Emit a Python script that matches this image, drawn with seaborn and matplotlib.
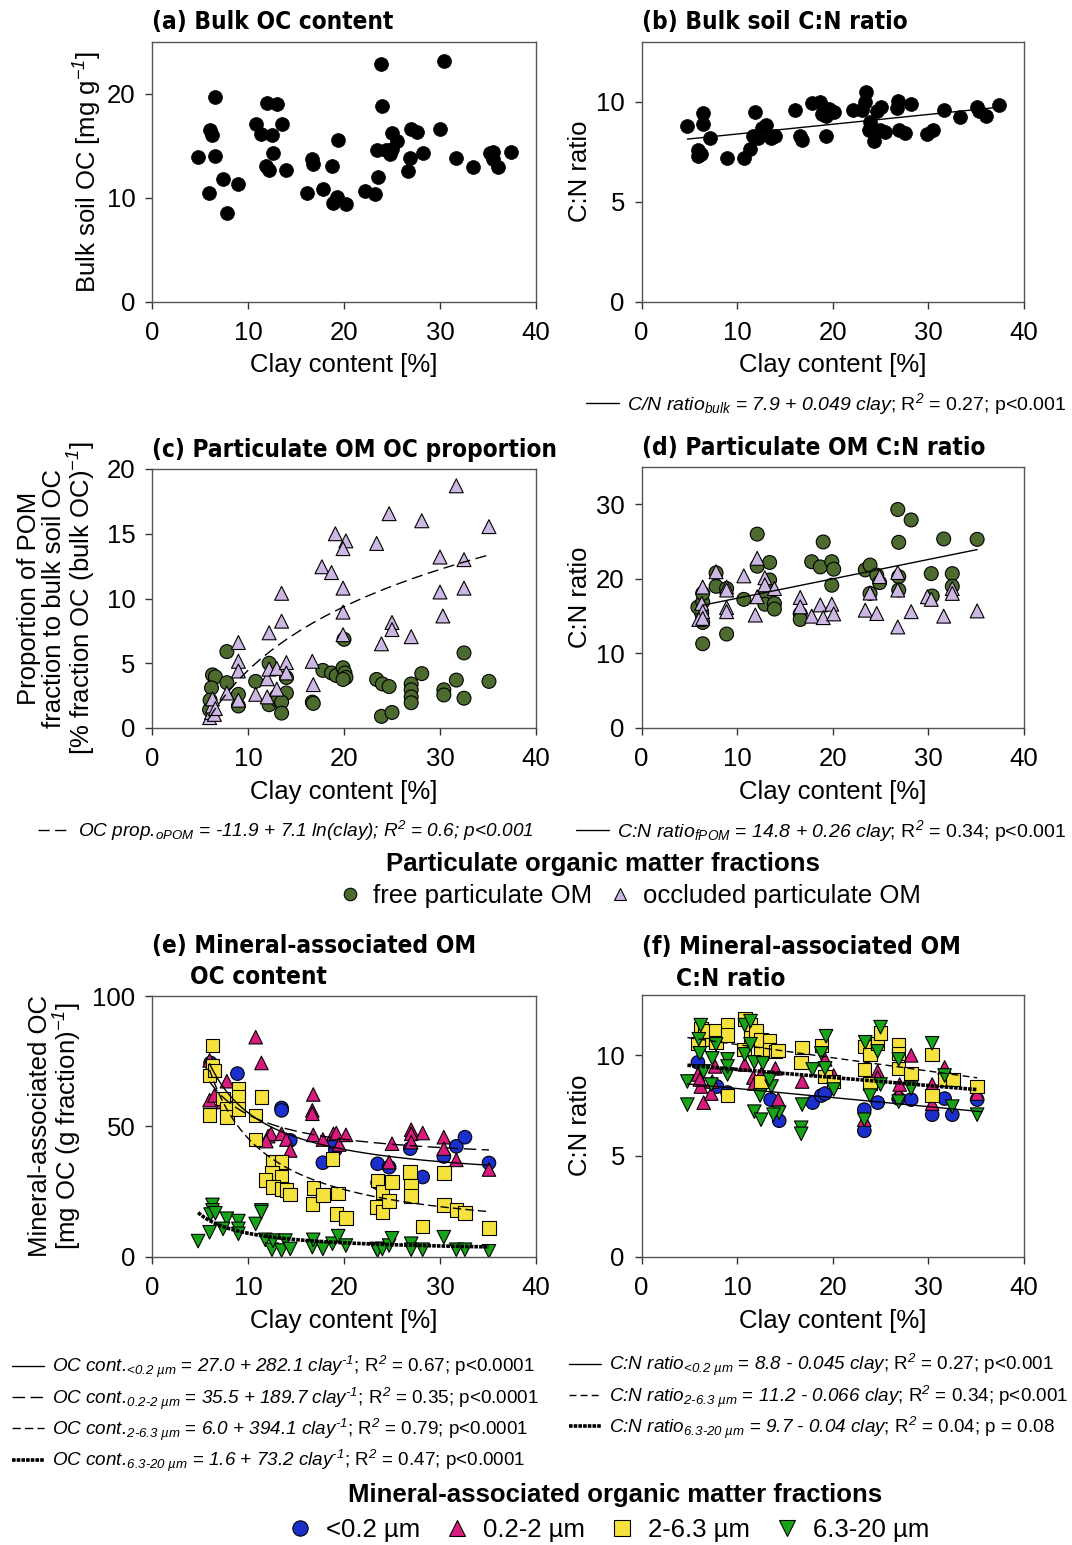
import matplotlib
matplotlib.use('Agg')
import matplotlib.pyplot as plt
from matplotlib.lines import Line2D
import numpy as np
import pandas as pd
import seaborn as sns

# ── Data ──────────────────────────────────────────────────────────────────
# (a) bulk soil OC [mg/g]
a_clay = [4.8, 6.6, 6.05, 6.3, 6.6, 5.95, 7.4, 7.8, 9.0, 10.8, 11.4, 12.0, 13.0, 12.5,
          13.5, 12.6, 11.9, 12.2, 14.0, 16.1, 16.7, 16.8, 17.8, 18.7, 19.4, 19.3, 18.9,
          20.2, 22.2, 23.2, 23.5, 23.4, 24.4, 24.8, 23.9, 24.0, 25.0, 25.5, 25.0, 26.9,
          26.7, 27.0, 27.6, 28.2, 30.0, 30.4, 31.7, 33.4, 35.2, 35.5, 35.5, 36.0, 37.4]
a_oc = [13.9, 14.0, 16.5, 16.0, 19.7, 10.5, 11.8, 8.5, 11.3, 17.1, 16.1, 19.1, 19.0, 16.0,
        17.1, 14.3, 13.1, 12.7, 12.7, 10.5, 13.7, 13.2, 10.8, 13.1, 15.6, 10.1, 9.5,
        9.4, 10.6, 10.4, 12.0, 14.6, 14.6, 14.2, 22.9, 18.8, 16.2, 15.5, 14.7, 13.8,
        12.6, 16.6, 16.3, 14.3, 16.6, 23.2, 13.8, 13.0, 14.3, 14.4, 13.7, 13.0, 14.4]

# (b) bulk soil C:N
b_clay = [4.8, 6.4, 6.4, 5.9, 5.9, 6.2, 7.2, 8.9, 10.7, 11.3, 11.9, 11.7, 12.2, 12.6, 13.0,
          13.5, 14.0, 16.1, 16.6, 16.8, 17.8, 18.7, 18.9, 19.3, 19.3, 19.6, 20.1, 22.1,
          23.1, 23.4, 23.5, 23.9, 23.8, 24.3, 24.6, 25.0, 24.9, 25.5, 26.7, 26.8, 26.9,
          27.6, 28.2, 29.9, 30.5, 31.6, 33.3, 35.1, 35.3, 36.0, 37.4]
b_cn = [8.8, 9.45, 8.9, 7.6, 7.3, 7.4, 8.2, 7.2, 7.2, 7.65, 9.5, 8.3, 8.2, 8.7, 8.85,
        8.2, 8.3, 9.6, 8.3, 8.1, 9.95, 9.97, 9.4, 9.3, 8.3, 9.65, 9.5, 9.6,
        9.6, 10.0, 10.5, 9.0, 8.6, 8.05, 9.55, 9.75, 8.6, 8.5, 9.7, 10.05, 8.6,
        8.45, 9.9, 8.4, 8.6, 9.6, 9.25, 9.75, 9.55, 9.3, 9.85]

# (c) POM OC proportion [%]
c_fpom_clay = [6.3, 6.6, 6.2, 6.05, 6.0, 7.8, 7.8, 9.0, 9.0, 10.8, 12.2, 12.2, 13.0, 13.1,
               14.0, 14.0, 13.5, 13.5, 16.7, 16.8, 17.8, 18.7, 19.2, 19.9, 20.1, 20.2,
               19.9, 20.0, 23.4, 24.0, 24.7, 23.9, 25.0, 27.0, 27.0, 27.0, 27.0, 28.1,
               30.4, 30.4, 31.7, 32.5, 32.5, 35.1]
c_fpom_prop = [4.1, 3.95, 3.1, 2.15, 1.4, 5.9, 3.5, 2.6, 1.7, 3.6, 5.0, 1.8, 2.45, 2.15,
               2.7, 3.9, 2.0, 1.15, 2.0, 1.9, 4.45, 4.25, 4.05, 4.65, 4.25, 3.9,
               3.75, 6.85, 3.75, 3.4, 3.2, 0.9, 1.2, 3.4, 2.95, 2.4, 1.95, 4.2,
               2.95, 2.55, 3.7, 2.3, 5.8, 3.6]
c_opom_clay = [6.0, 6.2, 6.5, 6.3, 6.3, 6.6, 7.8, 9.0, 9.0, 9.0, 9.0, 10.8, 12.0, 12.0,
               12.2, 12.2, 13.0, 13.0, 13.5, 13.5, 14.0, 14.0, 16.7, 16.8, 17.7, 18.7,
               19.1, 20.2, 19.9, 19.9, 19.9, 19.9, 23.4, 23.9, 24.7, 25.0, 25.0, 27.0,
               28.1, 30.0, 30.0, 30.3, 31.7, 32.5, 32.5, 35.1]
c_opom_prop = [0.8, 1.2, 1.05, 1.7, 2.25, 1.5, 2.7, 6.6, 5.15, 4.4, 2.15, 2.6, 2.4, 3.8,
               4.55, 7.35, 4.6, 3.0, 8.25, 10.4, 5.05, 4.25, 5.15, 3.35, 12.45, 12.0,
               15.0, 14.45, 13.85, 10.8, 8.95, 7.2, 14.25, 6.5, 16.55, 8.15, 7.6, 7.05,
               16.0, 13.2, 10.5, 8.65, 18.7, 13.0, 10.8, 15.55]

# (d) POM C:N
d_fpom_clay = [6.4, 6.4, 6.3, 5.9, 6.4, 6.4, 7.8, 7.8, 8.9, 8.9, 10.7, 12.1, 12.1, 13.4,
               13.4, 12.9, 12.9, 13.9, 13.9, 16.6, 16.6, 17.8, 18.7, 19.0, 19.9, 20.1,
               19.9, 23.4, 23.9, 23.9, 24.6, 24.9, 26.8, 28.2, 26.9, 26.9, 26.9, 30.3,
               30.4, 31.6, 32.5, 32.5, 35.1]
d_fpom_cn = [11.3, 14.15, 15.35, 16.2, 16.9, 18.05, 19.0, 20.8, 12.6, 18.7, 17.25, 26.0,
             21.7, 22.2, 19.85, 17.6, 16.6, 16.7, 15.95, 15.3, 14.55, 22.3, 21.6, 24.95,
             22.3, 21.3, 19.15, 21.2, 21.85, 18.05, 20.5, 19.5, 29.3, 27.9, 24.9, 20.3,
             18.5, 20.7, 17.7, 25.35, 20.7, 19.0, 25.3]
d_opom_clay = [6.4, 6.3, 6.4, 6.0, 6.4, 7.8, 8.9, 8.9, 8.9, 8.9, 10.7, 12.1, 12.1, 11.9,
               12.9, 12.9, 13.9, 16.6, 16.6, 17.8, 18.7, 19.0, 19.9, 20.1, 23.4, 23.9,
               24.6, 24.9, 26.8, 26.8, 26.8, 28.2, 29.9, 30.3, 31.6, 32.5, 32.5, 35.1]
d_opom_cn = [18.9, 16.7, 15.6, 14.55, 14.7, 20.95, 18.9, 18.5, 16.15, 15.6, 20.4, 22.75,
             17.6, 15.15, 20.15, 19.2, 18.7, 17.5, 16.25, 15.0, 16.5, 14.8, 16.6, 15.3,
             15.8, 18.1, 15.35, 20.3, 20.85, 18.5, 13.55, 15.6, 17.6, 17.25, 15.0, 18.7,
             18.05, 15.7]

# (e) MAOM OC content [mg/g fraction]
e_c1_clay = [6.1, 8.9, 7.8, 13.5, 13.5, 14.4, 17.8, 19.1, 18.9, 23.5, 23.5, 24.7, 26.9,
             28.2, 30.4, 31.7, 32.6, 35.1]
e_c1_oc = [74.3, 70.2, 57.6, 57.0, 56.1, 44.6, 36.0, 41.0, 43.9, 35.6, 28.3, 34.3, 41.4,
           30.5, 38.4, 42.3, 45.8, 35.9]
e_c2_clay = [6.0, 6.0, 6.5, 7.8, 7.4, 10.8, 11.4, 12.1, 12.4, 11.9, 13.5, 14.0, 14.4,
             16.8, 16.7, 16.7, 16.8, 17.8, 18.9, 19.2, 19.5, 20.2, 25.0, 24.7, 27.0,
             27.0, 27.0, 28.2, 30.4, 30.4, 31.7, 35.1]
e_c2_oc = [75.3, 60.0, 61.8, 67.3, 59.3, 84.2, 74.3, 46.2, 47.1, 44.3, 47.1, 44.9, 40.7,
           62.2, 56.1, 54.8, 46.7, 44.9, 47.1, 47.4, 43.0, 46.7, 43.3, 36.2, 48.7,
           47.1, 43.9, 47.4, 45.8, 41.4, 37.1, 33.4]
e_s1_clay = [6.3, 6.3, 6.0, 6.5, 6.0, 7.4, 7.8, 7.8, 9.0, 9.0, 9.0, 11.4, 10.8, 10.8,
             12.6, 13.5, 12.5, 13.5, 11.8, 12.6, 13.5, 14.0, 14.4, 16.8, 16.7, 17.8,
             18.8, 19.4, 19.2, 20.2, 23.5, 23.4, 24.0, 24.0, 25.0, 24.7, 26.9, 27.0,
             27.0, 28.2, 30.4, 30.4, 31.7, 32.6, 35.1]
e_s1_oc = [81.0, 73.4, 69.5, 71.4, 54.4, 60.6, 56.7, 53.5, 64.4, 61.2, 56.7, 61.2, 54.2,
           44.9, 36.2, 36.2, 32.0, 30.7, 29.4, 26.6, 26.0, 25.6, 23.8, 26.2, 20.2, 23.7,
           37.5, 24.1, 16.4, 14.7, 29.2, 18.9, 17.0, 24.7, 28.6, 21.3, 32.4, 27.3,
           23.2, 11.5, 32.1, 19.8, 17.9, 16.8, 10.9]
e_s2_clay = [4.8, 6.0, 6.3, 6.3, 6.1, 6.6, 7.8, 7.4, 9.0, 9.0, 9.0, 10.8, 11.4, 11.4,
             11.8, 12.5, 12.6, 13.5, 13.9, 14.4, 16.7, 16.8, 17.8, 18.8, 19.4, 20.2,
             23.4, 23.5, 24.0, 24.7, 25.0, 27.0, 27.0, 28.2, 30.4, 31.7, 32.6, 35.1]
e_s2_oc = [5.9, 9.3, 19.8, 17.7, 16.1, 16.6, 14.5, 10.6, 13.6, 10.6, 8.7, 12.5, 17.7,
           17.0, 6.4, 2.6, 6.1, 2.3, 6.1, 2.9, 3.6, 6.4, 2.9, 4.9, 7.8, 4.2, 2.9, 2.3,
           2.9, 4.2, 7.0, 4.9, 2.6, 2.6, 7.4, 2.6, 2.6, 2.0]

# (f) MAOM C:N
f_c1_clay = [5.9, 7.9, 9.0, 13.5, 14.4, 17.9, 18.8, 19.2, 23.3, 23.3, 24.7, 26.9, 28.2,
             30.4, 31.7, 32.5, 35.1]
f_c1_cn = [9.65, 8.45, 8.15, 7.8, 6.75, 7.65, 8.0, 8.1, 7.3, 6.25, 7.65, 7.85, 7.8,
           7.05, 7.85, 7.05, 7.8]
f_c2_clay = [5.9, 6.2, 6.1, 6.5, 7.3, 7.4, 7.7, 10.8, 11.7, 11.8, 12.5, 14.0, 14.3, 16.8,
             19.2, 20.1, 24.7, 24.7, 23.3, 26.9, 27.0, 28.2, 30.4, 30.4, 31.7, 35.1]
f_c2_cn = [9.05, 8.45, 8.8, 7.65, 8.1, 8.7, 9.45, 9.55, 8.9, 8.6, 9.05, 9.35, 7.8, 8.7,
           9.8, 9.0, 9.2, 8.9, 6.8, 8.1, 8.55, 10.0, 8.55, 7.6, 9.4, 8.1]
f_s1_clay = [6.2, 6.4, 5.9, 6.6, 7.8, 7.8, 9.0, 9.0, 9.0, 10.8, 11.4, 11.4, 10.7, 12.0,
             12.5, 12.5, 13.4, 13.4, 14.0, 14.3, 12.5, 16.8, 16.7, 18.8, 19.2, 20.1,
             23.3, 23.3, 23.9, 24.7, 25.0, 23.9, 26.9, 26.9, 26.9, 28.2, 30.4, 30.4,
             31.7, 32.6, 35.1]
f_s1_cn = [11.3, 10.8, 10.6, 11.2, 11.2, 10.65, 11.5, 11.0, 8.0, 11.8, 11.5, 10.85, 10.3,
           11.2, 10.75, 10.1, 10.7, 10.3, 10.2, 10.25, 8.7, 10.4, 9.65, 10.5, 8.95, 8.7,
           10.45, 9.3, 10.05, 10.6, 11.1, 8.6, 10.55, 10.1, 9.35, 9.1, 10.05, 8.0,
           8.8, 8.8, 8.45]
f_s2_clay = [4.8, 4.8, 6.2, 6.0, 6.1, 6.5, 7.4, 7.3, 7.8, 9.0, 9.0, 9.0, 10.8, 11.4, 10.8,
             11.4, 11.8, 12.7, 11.8, 12.5, 12.4, 13.6, 13.4, 14.4, 13.8, 16.8, 16.7,
             16.7, 17.9, 18.8, 19.3, 19.2, 20.1, 23.4, 23.3, 23.9, 24.7, 25.0, 25.0,
             26.9, 26.9, 28.2, 30.4, 31.7, 32.5, 35.1]
f_s2_cn = [8.7, 7.55, 11.5, 10.8, 10.1, 9.2, 9.85, 8.55, 10.55, 9.8, 9.05, 9.45, 11.5,
           11.7, 10.05, 10.55, 9.65, 9.6, 7.2, 6.8, 8.0, 8.45, 8.8, 7.15, 7.05, 7.55,
           6.4, 6.1, 9.3, 10.1, 10.95, 9.35, 8.3, 10.65, 6.8, 8.0, 10.2, 11.4, 8.55,
           9.8, 7.7, 8.35, 10.6, 9.0, 7.45, 7.05]

# regression coefficients printed in the figure
b_fit = (7.9, 0.049)                     # linear
c_fit = (-11.9, 7.1)                     # a + b ln(clay)
d_fit = (14.8, 0.26)                     # linear
e_fit_a = [27.0, 35.5, 6.0, 1.6]         # a + b / clay
e_fit_b = [282.1, 189.7, 394.1, 73.2]
f_fit_a = [8.8, 11.2, 9.7]               # linear (<0.2, 2-6.3, 6.3-20)
f_fit_b = [-0.045, -0.066, -0.04]

POM = ['free particulate OM', 'occluded particulate OM']
MAOM = ['<0.2 µm', '0.2-2 µm', '2-6.3 µm', '6.3-20 µm']

# ── Style ─────────────────────────────────────────────────────────────────
sns.set_theme(style='ticks')
plt.rcParams['font.family'] = ['Liberation Sans', 'DejaVu Sans']
plt.rcParams['mathtext.fontset'] = 'custom'
plt.rcParams['mathtext.rm'] = 'Liberation Sans:italic'
plt.rcParams['mathtext.it'] = 'Liberation Sans:italic'
plt.rcParams['mathtext.bf'] = 'Liberation Sans:bold'
for key in ['text.color', 'axes.labelcolor', 'xtick.color', 'ytick.color']:
    plt.rcParams[key] = 'black'

POM_COL = {POM[0]: '#4d6b2e', POM[1]: '#cdb8e3'}
POM_MRK = {POM[0]: 'o', POM[1]: '^'}
MAOM_COL = dict(zip(MAOM, ['#1a2fcc', '#d81b7c', '#f6e23c', '#18a418']))
MAOM_MRK = dict(zip(MAOM, ['o', '^', 's', 'v']))
FS = 18.5
EQ_FS = 14
THICK_DOT = (0, (1, 0.3))

W, H = 1072, 1545
fig = plt.figure(figsize=(W / 100, H / 100), dpi=100)


def px_box(l, t, r, b):
    return [l / W, 1 - b / H, (r - l) / W, (b - t) / H]


def style_axes(ax, ymax, yticks, ylabel, ylab_x, lsp=1.2):
    ax.set_xlim(0, 40)
    ax.set_xticks(range(0, 41, 10))
    ax.set_ylim(0, ymax)
    ax.set_yticks(yticks)
    ax.set_xlabel('Clay content [%]', fontsize=FS)
    ax.set_ylabel(ylabel, fontsize=FS, linespacing=lsp)
    ax.xaxis.set_label_coords(0.5, -0.2)
    ax.yaxis.set_label_coords(ylab_x, 0.5)
    ax.tick_params(direction='out', length=5, width=1, labelsize=FS, pad=7,
                   color='#333333', top=False, right=False)
    ax.tick_params(axis='x', pad=9)
    for s in ax.spines.values():
        s.set_linewidth(1.0)
        s.set_color('#555555')


def title(ax, txt, y, x=0.0):
    ax.text(x, y, txt, transform=ax.transAxes, ha='left', va='center',
            fontsize=17.5, fontweight='bold', family='DejaVu Sans', fontstretch='condensed')


def fit_line(ax, x0, x1, func, ls, lw=1.0):
    xs = np.linspace(x0, x1, 200)
    sns.lineplot(x=xs, y=func(xs), ax=ax, color='black', lw=lw, ls=ls,
                 estimator=None, sort=True)
    return ax.lines[-1]


def long_df(groups, names):
    frames = [pd.DataFrame({'clay': x, 'val': y, 'frac': n}) for (x, y), n in zip(groups, names)]
    return pd.concat(frames, ignore_index=True)


# ── (a) ───────────────────────────────────────────────────────────────────
ax_a = fig.add_axes(px_box(152, 42, 536, 301.5))
sns.scatterplot(x=a_clay, y=a_oc, ax=ax_a, color='black', s=100, edgecolor='black',
                linewidth=0.5, legend=False)
style_axes(ax_a, 25, [0, 10, 20], 'Bulk soil OC [mg g$^{-1}$]', -0.125)
title(ax_a, '(a) Bulk OC content', 1.077)

# ── (b) ───────────────────────────────────────────────────────────────────
ax_b = fig.add_axes(px_box(641.5, 42, 1024, 301.5))
sns.scatterplot(x=b_clay, y=b_cn, ax=ax_b, color='black', s=100, edgecolor='black',
                linewidth=0.5, legend=False)
ln_b = fit_line(ax_b, 4.8, 37.4, lambda x: b_fit[0] + b_fit[1] * x, '-')
style_axes(ax_b, 13, [0, 5, 10], 'C:N ratio', -0.13)
title(ax_b, '(b) Bulk soil C:N ratio', 1.077)

# ── (c) ───────────────────────────────────────────────────────────────────
ax_c = fig.add_axes(px_box(152, 469, 536, 728))
df_c = long_df([(c_fpom_clay, c_fpom_prop), (c_opom_clay, c_opom_prop)], POM)
sns.scatterplot(data=df_c, x='clay', y='val', hue='frac', style='frac', palette=POM_COL,
                markers=POM_MRK, s=100, edgecolor='black', linewidth=0.8, legend=False, ax=ax_c)
ln_c = fit_line(ax_c, 6.0, 35.1, lambda x: c_fit[0] + c_fit[1] * np.log(x), (0, (8, 4)))
style_axes(ax_c, 20, [0, 5, 10, 15, 20],
           'Proportion of POM\nfraction to bulk soil OC\n[% fraction OC (bulk OC)$^{-1}$]',
           -0.140, lsp=1.02)
title(ax_c, '(c) Particulate OM OC proportion', 1.073)

# ── (d) ───────────────────────────────────────────────────────────────────
ax_d = fig.add_axes(px_box(641.5, 467, 1024, 728))
df_d = long_df([(d_fpom_clay, d_fpom_cn), (d_opom_clay, d_opom_cn)], POM)
sns.scatterplot(data=df_d, x='clay', y='val', hue='frac', style='frac', palette=POM_COL,
                markers=POM_MRK, s=100, edgecolor='black', linewidth=0.8, legend=False, ax=ax_d)
ln_d = fit_line(ax_d, 6.4, 35.1, lambda x: d_fit[0] + d_fit[1] * x, '-')
style_axes(ax_d, 35, [0, 10, 20, 30], 'C:N ratio', -0.13)
title(ax_d, '(d) Particulate OM C:N ratio', 1.073)

# ── (e) ───────────────────────────────────────────────────────────────────
ax_e = fig.add_axes(px_box(152, 996, 536, 1256.5))
df_e = long_df([(e_c1_clay, e_c1_oc), (e_c2_clay, e_c2_oc),
                (e_s1_clay, e_s1_oc), (e_s2_clay, e_s2_oc)], MAOM)
sns.scatterplot(data=df_e, x='clay', y='val', hue='frac', style='frac', palette=MAOM_COL,
                markers=MAOM_MRK, s=95, edgecolor='black', linewidth=0.8, legend=False, ax=ax_e)
e_styles = ['-', (0, (9, 4)), (0, (6, 3)), THICK_DOT]
e_widths = [1.0, 1.0, 1.0, 2.6]
e_start = [6.0, 6.0, 6.0, 4.8]
ln_e = []
for a0, b0, ls, lw, x0 in zip(e_fit_a, e_fit_b, e_styles, e_widths, e_start):
    ln_e.append(fit_line(ax_e, x0, 35.1, lambda x, a0=a0, b0=b0: a0 + b0 / x, ls, lw))
style_axes(ax_e, 100, [0, 50, 100],
           'Mineral-associated OC\n[mg OC (g fraction)$^{-1}$]', -0.176, lsp=1.02)
title(ax_e, '(e) Mineral-associated OM', 1.192)
title(ax_e, 'OC content', 1.073, x=0.099)

# ── (f) ───────────────────────────────────────────────────────────────────
ax_f = fig.add_axes(px_box(641.5, 995, 1024, 1256.5))
df_f = long_df([(f_c1_clay, f_c1_cn), (f_c2_clay, f_c2_cn),
                (f_s1_clay, f_s1_cn), (f_s2_clay, f_s2_cn)], MAOM)
sns.scatterplot(data=df_f, x='clay', y='val', hue='frac', style='frac', palette=MAOM_COL,
                markers=MAOM_MRK, s=95, edgecolor='black', linewidth=0.8, legend=False, ax=ax_f)
f_styles = ['-', (0, (5, 3)), THICK_DOT]
f_widths = [1.0, 1.0, 2.6]
f_end = [35.6, 35.1, 35.1]
ln_f = []
for a0, b0, ls, lw, x1 in zip(f_fit_a, f_fit_b, f_styles, f_widths, f_end):
    ln_f.append(fit_line(ax_f, 4.8, x1, lambda x, a0=a0, b0=b0: a0 + b0 * x, ls, lw))
style_axes(ax_f, 13, [0, 5, 10], 'C:N ratio', -0.13)
title(ax_f, '(f) Mineral-associated OM', 1.184)
title(ax_f, 'C:N ratio', 1.061, x=0.09)

# ── Equation legends ──────────────────────────────────────────────────────
leg_kw = dict(frameon=False, borderpad=0, borderaxespad=0, handlelength=1.7,
              handletextpad=0.4)

fig.legend([ln_b], [r'$\text{C/N ratio}_{\text{bulk}}$ = $\text{7.9 + 0.049 clay}$; R$^2$ = 0.27; p<0.001'],
           loc='center right', bbox_to_anchor=(1066 / W, 1 - 404 / H), fontsize=EQ_FS, **leg_kw)

fig.legend([ln_c], [r'OC prop.$_{\text{oPOM}}$ = -11.9 + 7.1 ln(clay); R$^2$ = 0.6; p<0.001'],
           loc='center left', bbox_to_anchor=(38 / W, 1 - 831 / H),
           prop={'size': 13.7, 'style': 'italic'}, **leg_kw)
fig.legend([ln_d], [r'$\text{C:N ratio}_{\text{fPOM}}$ = $\text{14.8 + 0.26 clay}$; R$^2$ = 0.34; p<0.001'],
           loc='center right', bbox_to_anchor=(1066 / W, 1 - 831 / H), fontsize=14, **leg_kw)

e_labels = [
    r'$\text{OC cont.}_{\text{<0.2 µm}}$ = $\text{27.0 + 282.1 clay}^{\text{-1}}$; R$^2$ = 0.67; p<0.0001',
    r'$\text{OC cont.}_{\text{0.2-2 µm}}$ = $\text{35.5 + 189.7 clay}^{\text{-1}}$; R$^2$ = 0.35; p<0.0001',
    r'$\text{OC cont.}_{\text{2-6.3 µm}}$ = $\text{6.0 + 394.1 clay}^{\text{-1}}$; R$^2$ = 0.79; p<0.0001',
    r'$\text{OC cont.}_{\text{6.3-20 µm}}$ = $\text{1.6 + 73.2 clay}^{\text{-1}}$; R$^2$ = 0.47; p<0.0001',
]
fig.legend(ln_e, e_labels, loc='upper left', bbox_to_anchor=(12 / W, 1 - 1354 / H),
           fontsize=13.6, labelspacing=0.27, **leg_kw)
f_labels = [
    r'$\text{C:N ratio}_{\text{<0.2 µm}}$ = $\text{8.8 - 0.045 clay}$; R$^2$ = 0.27; p<0.001',
    r'$\text{C:N ratio}_{\text{2-6.3 µm}}$ = $\text{11.2 - 0.066 clay}$; R$^2$ = 0.34; p<0.001',
    r'$\text{C:N ratio}_{\text{6.3-20 µm}}$ = $\text{9.7 - 0.04 clay}$; R$^2$ = 0.04; p = 0.08',
]
fig.legend(ln_f, f_labels, loc='upper right', bbox_to_anchor=(1068 / W, 1 - 1352 / H),
           fontsize=13.6, labelspacing=0.27, **leg_kw)

# ── Group legends (title as separate text so it can sit off-centre) ────────
fig.text(603 / W, 1 - 864 / H, 'Particulate organic matter fractions', ha='center',
         va='center', fontsize=FS, fontweight='bold')
pom_handles = [Line2D([], [], ls='', marker=POM_MRK[n], ms=9, mfc=POM_COL[n], mec='black',
                      mew=0.8) for n in POM]
fig.legend(pom_handles, POM, loc='center', bbox_to_anchor=(629 / W, 1 - 896 / H), ncol=2,
           frameon=False, fontsize=FS, handlelength=1.0,
           handletextpad=0.4, columnspacing=0.6, borderpad=0)

fig.text(615 / W, 1 - 1495 / H, 'Mineral-associated organic matter fractions', ha='center',
         va='center', fontsize=FS, fontweight='bold')
maom_handles = [Line2D([], [], ls='', marker=MAOM_MRK[n], ms=11, mfc=MAOM_COL[n], mec='black',
                       mew=0.8) for n in MAOM]
fig.legend(maom_handles, MAOM, loc='center', bbox_to_anchor=(608 / W, 1 - 1530 / H), ncol=4,
           frameon=False, fontsize=FS, handlelength=1.0,
           handletextpad=0.5, columnspacing=0.95, borderpad=0)

fig.savefig('out.png', dpi=100)
